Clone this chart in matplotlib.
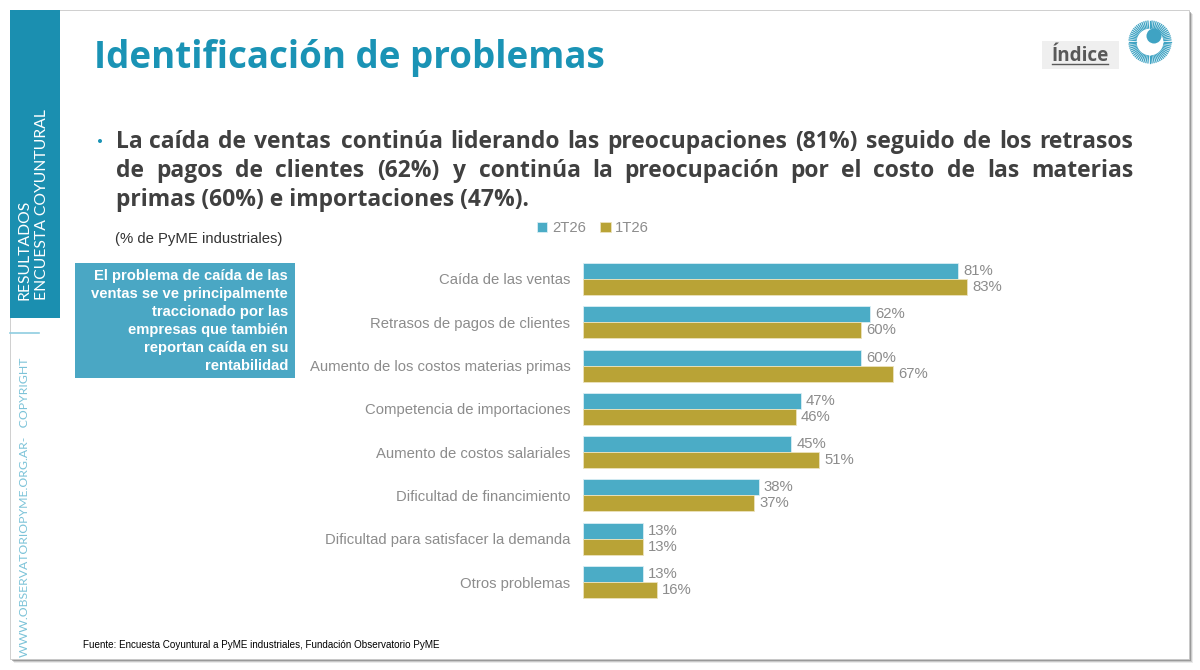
import numpy as np
import matplotlib
matplotlib.use("Agg")
import matplotlib.pyplot as plt
from matplotlib.patches import Rectangle, Circle
from matplotlib.textpath import TextPath
from matplotlib.font_manager import FontProperties, fontManager

# ---------------- data ----------------
categories = [
    "Caída de las ventas",
    "Retrasos de pagos de clientes",
    "Aumento de los costos materias primas",
    "Competencia de importaciones",
    "Aumento de costos salariales",
    "Dificultad de financimiento",
    "Dificultad para satisfacer la demanda",
    "Otros problemas",
]
series_names = ["2T26", "1T26"]
values_2T26 = [81, 62, 60, 47, 45, 38, 13, 13]
values_1T26 = [83, 60, 67, 46, 51, 37, 13, 16]

title = "Identificación de problemas"
bullet_lines = [
    "La caída de ventas continúa liderando las preocupaciones (81%) seguido de los retrasos",
    "de pagos de clientes (62%) y continúa la preocupación por el costo de las materias",
    "primas (60%) e importaciones (47%).",
]
subtitle = "(% de PyME industriales)"
box_lines = ["El problema de caída de las", "ventas se ve principalmente",
             "traccionado por las", "empresas que también",
             "reportan caída en su", "rentabilidad"]
source = "Fuente: Encuesta Coyuntural a PyME industriales, Fundación Observatorio PyME"

# ---------------- style ----------------
W, H, DPI = 1200, 670, 100
C_BLUE = "#4bacc6"
C_GOLD = "#b9a336"
C_TEAL = "#1a93b5"
C_SIDE = "#1b8fb0"
C_BOX = "#4aa7c4"
C_GRAY = "#8c8c8c"
C_TXT = "#404040"

def has_weight(name, wmin, wmax):
    for f in fontManager.ttflist:
        if f.name == name:
            w = f.weight if isinstance(f.weight, int) else {"bold": 700, "normal": 400, "light": 300}.get(f.weight, 400)
            if wmin <= w <= wmax and f.style == "normal":
                return True
    return False

def pick(wmin, wmax, *fams):
    for f in fams:
        if has_weight(f, wmin, wmax):
            return f
    return "DejaVu Sans"

F_HEAD = pick(650, 800, "Montserrat", "Open Sans", "Lato")
F_ARIAL = pick(350, 450, "Liberation Sans", "Arial")
F_NARROW = pick(350, 450, "Liberation Sans Narrow", "Arial Narrow", "Liberation Sans")
F_LIGHT = pick(380, 420, "Lato", "Open Sans")

def ink_w(s, family, weight, size=10):
    fp = FontProperties(family=family, weight=weight)
    return TextPath((0, 0), s, size=size, prop=fp).get_extents().width * DPI / 72

def fit(s, family, weight, target):
    return 10 * target / ink_w(s, family, weight, 10)

fig = plt.figure(figsize=(W / DPI, H / DPI), dpi=DPI)
bg = fig.add_axes([0, 0, 1, 1])
bg.set_xlim(0, W)
bg.set_ylim(H, 0)
bg.axis("off")

# slide with shadow
for i, a in enumerate([0.12, 0.22, 0.40]):
    off = 4 - i
    bg.add_patch(Rectangle((10 + off, 10 + off), 1179, 649, color="#555555",
                           alpha=a, lw=0, zorder=0))
bg.add_patch(Rectangle((10, 10), 1179, 649, facecolor="white",
                       edgecolor="#c8c8c8", lw=0.6, zorder=1))

# side bar
bg.add_patch(Rectangle((10, 10), 50, 308, color=C_SIDE, lw=0, zorder=2))
fs = fit("ENCUESTA COYUNTURAL", F_LIGHT, "normal", 190)
bg.text(25, 300, "RESULTADOS", rotation=90, ha="center", va="bottom",
        color="white", fontsize=fs, family=F_LIGHT, zorder=3)
bg.text(42, 300, "ENCUESTA COYUNTURAL", rotation=90, ha="center", va="bottom",
        color="white", fontsize=fs, family=F_LIGHT, zorder=3)
bg.plot([10, 39], [333, 333], color="#8fcde0", lw=1.2, zorder=3)
site = "WWW.OBSERVATORIOPYME.ORG.AR-   COPYRIGHT"
bg.text(25, 657, site, rotation=90, ha="center", va="bottom", color="#7cc3d8",
        fontsize=fit(site, F_LIGHT, "normal", 300), family=F_LIGHT, zorder=3)

# title
bg.text(94, 68, title, ha="left", va="baseline", color=C_TEAL,
        fontsize=fit(title, F_HEAD, "bold", 506), family=F_HEAD, weight="bold", zorder=3)

# Índice button + logo
bg.add_patch(Rectangle((1042, 41), 77, 28, color="#efefef", lw=0, zorder=2))
bg.text(1080, 61, "Índice", ha="center", va="baseline", color="#595959",
        fontsize=fit("Índice", F_HEAD, "bold", 55), family=F_HEAD, weight="bold", zorder=3)
bg.plot([1052, 1108], [64, 64], color="#595959", lw=1.0, zorder=3)
ang = np.linspace(0, 2 * np.pi, 64, endpoint=False)
for t in ang:
    bg.plot([1150 + 14 * np.cos(t), 1150 + 21 * np.cos(t)],
            [42 + 14 * np.sin(t), 42 + 21 * np.sin(t)],
            color="#3fa3c3", lw=0.9, zorder=3)
bg.add_patch(Circle((1154, 36), 7.5, color="#3fa3c3", lw=0, zorder=3))

# bullet text (justified)
fsb = fit(bullet_lines[2], F_HEAD, "bold", 410)
bg.add_patch(Circle((100, 141), 2.0, color=C_TEAL, lw=0, zorder=3))
x0, x1 = 116, 1131
baselines = [148, 177, 206]
for k, line in enumerate(bullet_lines):
    if k < len(bullet_lines) - 1:
        words = line.split(" ")
        ws = [ink_w(w, F_HEAD, "bold", fsb) for w in words]
        gap = (x1 - x0 - sum(ws)) / (len(words) - 1)
        x = x0
        for w, ww in zip(words, ws):
            bg.text(x, baselines[k], w, ha="left", va="baseline", color=C_TXT,
                    fontsize=fsb, family=F_HEAD, weight="bold", zorder=3)
            x += ww + gap
    else:
        bg.text(x0, baselines[k], line, ha="left", va="baseline", color=C_TXT,
                fontsize=fsb, family=F_HEAD, weight="bold", zorder=3)

bg.text(115, 243, subtitle, ha="left", va="baseline", color="#333333",
        fontsize=fit(subtitle, F_ARIAL, "normal", 165), family=F_ARIAL, zorder=3)

# side box
bg.add_patch(Rectangle((75, 263), 220, 115, color=C_BOX, lw=0, zorder=2))
fsx = fit(box_lines[1], F_ARIAL, "bold", 197)
for i, l in enumerate(box_lines):
    bg.text(288, 280 + i * 18.1, l, ha="right", va="baseline", color="white",
            fontsize=fsx, family=F_ARIAL, weight="bold", zorder=3)

# source
bg.text(83, 648, source, ha="left", va="baseline", color="black",
        fontsize=fit(source, F_NARROW, "normal", 356), family=F_NARROW, zorder=3)

# ---------------- bar chart ----------------
ax_l, ax_r = 583, 1046
y_top = 279 - 21.65
y_bot = 582 + 21.65
ax = fig.add_axes([ax_l / W, 1 - y_bot / H, (ax_r - ax_l) / W, (y_bot - y_top) / H])
ax.patch.set_alpha(0)
n = len(categories)
y = np.arange(n)
bh = 0.37
b1 = ax.barh(y - bh / 2, values_2T26, height=bh, color=C_BLUE,
             edgecolor="#d9eef5", linewidth=0.6, label=series_names[0], zorder=3)
b2 = ax.barh(y + bh / 2, values_1T26, height=bh, color=C_GOLD,
             edgecolor="#ece3bd", linewidth=0.6, label=series_names[1], zorder=3)
ax.set_xlim(0, 100)
ax.set_ylim(n - 0.5, -0.5)
fsl = fit("Dificultad para satisfacer la demanda", F_ARIAL, "normal", 243)
ax.set_yticks(y)
ax.set_yticklabels(categories, fontsize=fsl, color=C_GRAY, family=F_ARIAL)
ax.tick_params(axis="y", length=0, pad=9)
ax.set_xticks([])
for s in ax.spines.values():
    s.set_visible(False)
for bars in (b1, b2):
    for r in bars:
        v = r.get_width()
        ax.annotate(f"{v:.0f}%", (v, r.get_y() + r.get_height() / 2),
                    xytext=(3.6, 0), textcoords="offset points",
                    ha="left", va="center", color=C_GRAY, fontsize=fsl,
                    family=F_ARIAL)

# legend
leg = ax.legend(handles=[b1, b2], labels=series_names, loc="lower left",
                bbox_to_anchor=((531 - ax_l) / (ax_r - ax_l), 1 + (y_top - 241) / (y_bot - y_top)),
                ncol=2, frameon=False, handlelength=0.7, handleheight=0.7,
                handletextpad=0.3, columnspacing=1.0, borderaxespad=0,
                prop=FontProperties(family=F_ARIAL, size=fsl))
for t in leg.get_texts():
    t.set_color(C_GRAY)

fig.savefig("out.png", dpi=DPI)
